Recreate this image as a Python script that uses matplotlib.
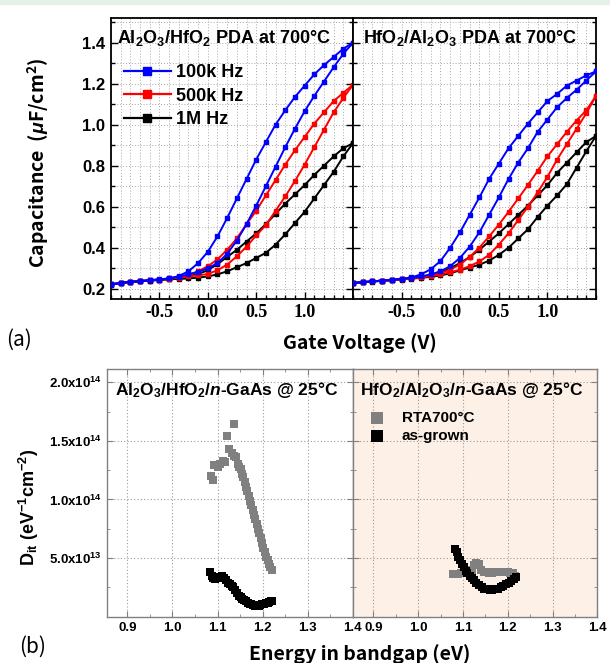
import matplotlib
matplotlib.use("Agg")
import matplotlib.pyplot as plt
from matplotlib.lines import Line2D
from matplotlib.patches import Rectangle
from matplotlib.ticker import MultipleLocator, FixedLocator, NullFormatter

plt.rcParams['font.family'] = ['Liberation Sans', 'DejaVu Sans']
plt.rcParams['font.weight'] = 'bold'
plt.rcParams['mathtext.fontset'] = 'custom'
plt.rcParams['mathtext.rm'] = 'Liberation Sans:bold'
plt.rcParams['mathtext.it'] = 'Liberation Sans:italic:bold'
plt.rcParams['mathtext.bf'] = 'Liberation Sans:bold'
plt.rcParams['mathtext.default'] = 'regular'

# ---------------- C-V data (gate sweep, uF/cm^2) ----------------
gate_v = [-1.0, -0.9, -0.8, -0.7, -0.6, -0.5, -0.4, -0.3, -0.2, -0.1, 0.0,
          0.1, 0.2, 0.3, 0.4, 0.5, 0.6, 0.7, 0.8, 0.9, 1.0, 1.1, 1.2, 1.3, 1.4, 1.5]

# Al2O3/HfO2 stack
ah_100k_up = [0.220, 0.228, 0.233, 0.237, 0.241, 0.245, 0.250, 0.262, 0.285, 0.325, 0.380,
              0.455, 0.545, 0.640, 0.735, 0.830, 0.915, 1.000, 1.070, 1.135, 1.190,
              1.245, 1.290, 1.330, 1.370, 1.400]
ah_100k_dn = [0.222, 0.229, 0.234, 0.238, 0.242, 0.246, 0.250, 0.258, 0.270, 0.282, 0.300,
              0.325, 0.370, 0.435, 0.515, 0.605, 0.700, 0.795, 0.890, 0.980, 1.065,
              1.140, 1.210, 1.280, 1.345, 1.400]
ah_500k_up = [0.221, 0.228, 0.233, 0.237, 0.241, 0.245, 0.250, 0.258, 0.268, 0.285, 0.310,
              0.343, 0.390, 0.445, 0.515, 0.580, 0.655, 0.730, 0.805, 0.875, 0.940,
              1.005, 1.060, 1.115, 1.155, 1.195]
ah_500k_dn = [0.222, 0.229, 0.234, 0.238, 0.241, 0.244, 0.248, 0.254, 0.260, 0.265, 0.272,
              0.290, 0.318, 0.358, 0.405, 0.460, 0.510, 0.580, 0.650, 0.725, 0.805,
              0.890, 0.975, 1.060, 1.130, 1.195]
ah_1M_up = [0.220, 0.227, 0.232, 0.236, 0.240, 0.243, 0.247, 0.252, 0.260, 0.272, 0.290,
            0.320, 0.355, 0.390, 0.430, 0.470, 0.515, 0.565, 0.615, 0.660, 0.705,
            0.755, 0.800, 0.845, 0.885, 0.910]
ah_1M_dn = [0.221, 0.228, 0.233, 0.237, 0.240, 0.243, 0.246, 0.248, 0.250, 0.254, 0.260,
            0.270, 0.285, 0.305, 0.325, 0.350, 0.375, 0.415, 0.465, 0.520, 0.575,
            0.640, 0.705, 0.770, 0.845, 0.910]

# HfO2/Al2O3 stack
ha_100k_up = [0.228, 0.232, 0.236, 0.240, 0.244, 0.248, 0.255, 0.270, 0.295, 0.335, 0.400,
              0.475, 0.560, 0.645, 0.735, 0.810, 0.885, 0.945, 1.005, 1.060, 1.115,
              1.150, 1.190, 1.215, 1.240, 1.260]
ha_100k_dn = [0.228, 0.232, 0.236, 0.240, 0.244, 0.248, 0.252, 0.260, 0.270, 0.285, 0.310,
              0.350, 0.405, 0.475, 0.560, 0.645, 0.735, 0.815, 0.885, 0.965, 1.025,
              1.085, 1.130, 1.170, 1.215, 1.260]
ha_500k_up = [0.228, 0.232, 0.236, 0.240, 0.243, 0.247, 0.251, 0.258, 0.265, 0.275, 0.293,
              0.318, 0.355, 0.400, 0.455, 0.512, 0.575, 0.640, 0.706, 0.775, 0.845,
              0.905, 0.965, 1.020, 1.070, 1.140]
ha_500k_dn = [0.228, 0.232, 0.236, 0.239, 0.242, 0.246, 0.250, 0.255, 0.262, 0.270, 0.280,
              0.293, 0.310, 0.333, 0.365, 0.415, 0.470, 0.535, 0.600, 0.670, 0.745,
              0.830, 0.905, 0.980, 1.055, 1.140]
ha_1M_up = [0.228, 0.232, 0.236, 0.239, 0.242, 0.246, 0.250, 0.256, 0.265, 0.280, 0.300,
            0.325, 0.355, 0.390, 0.430, 0.470, 0.515, 0.560, 0.605, 0.655, 0.705,
            0.765, 0.815, 0.865, 0.915, 0.945]
ha_1M_dn = [0.228, 0.231, 0.235, 0.238, 0.241, 0.245, 0.249, 0.253, 0.258, 0.265, 0.275,
            0.290, 0.303, 0.317, 0.337, 0.365, 0.400, 0.445, 0.490, 0.550, 0.605,
            0.655, 0.710, 0.790, 0.870, 0.945]

freq_labels = ['100k Hz', '500k Hz', '1M Hz']
freq_colors = ['#0000ff', '#ff0000', '#000000']

# ---------------- Dit data (eV^-1 cm^-2) ----------------
ah_rta_e = [1.086, 1.091, 1.093, 1.100, 1.106, 1.112, 1.117, 1.121, 1.126, 1.131,
            1.136, 1.136, 1.141, 1.145, 1.148, 1.151, 1.154, 1.157, 1.160, 1.163,
            1.166, 1.169, 1.172, 1.175, 1.178, 1.181, 1.184, 1.187, 1.190, 1.193,
            1.196, 1.199, 1.202, 1.205, 1.208, 1.211, 1.214, 1.217, 1.220]
ah_rta_dit = [1.20e14, 1.17e14, 1.29e14, 1.28e14, 1.30e14, 1.33e14, 1.32e14, 1.54e14, 1.43e14, 1.40e14,
              1.64e14, 1.37e14, 1.36e14, 1.30e14, 1.28e14, 1.26e14, 1.22e14, 1.19e14, 1.15e14, 1.11e14,
              1.07e14, 1.03e14, 0.99e14, 0.95e14, 0.91e14, 0.87e14, 0.83e14, 0.79e14, 0.75e14, 0.71e14,
              0.67e14, 0.63e14, 0.59e14, 0.55e14, 0.51e14, 0.48e14, 0.45e14, 0.42e14, 0.40e14]
ah_asg_e = [1.084, 1.087, 1.090, 1.095, 1.100, 1.105, 1.110, 1.115, 1.119, 1.123,
            1.127, 1.131, 1.135, 1.139, 1.143, 1.147, 1.151, 1.155, 1.159, 1.163,
            1.167, 1.171, 1.175, 1.179, 1.183, 1.187, 1.191, 1.195, 1.199, 1.203,
            1.207, 1.211, 1.215, 1.219, 1.221]
ah_asg_dit = [0.38e14, 0.35e14, 0.33e14, 0.32e14, 0.33e14, 0.34e14, 0.345e14, 0.33e14, 0.31e14, 0.29e14,
              0.28e14, 0.265e14, 0.25e14, 0.225e14, 0.20e14, 0.18e14, 0.165e14, 0.15e14, 0.14e14, 0.13e14,
              0.12e14, 0.11e14, 0.105e14, 0.10e14, 0.095e14, 0.095e14, 0.095e14, 0.10e14, 0.105e14, 0.11e14,
              0.115e14, 0.12e14, 0.125e14, 0.13e14, 0.13e14]
ha_rta_e = [1.078, 1.084, 1.090, 1.096, 1.102, 1.108, 1.114, 1.120, 1.125, 1.130,
            1.135, 1.140, 1.146, 1.152, 1.158, 1.164, 1.170, 1.176, 1.182, 1.188,
            1.194, 1.200, 1.206, 1.212, 1.217]
ha_rta_dit = [0.36e14, 0.36e14, 0.365e14, 0.37e14, 0.37e14, 0.37e14, 0.375e14, 0.40e14, 0.44e14, 0.46e14,
              0.45e14, 0.40e14, 0.385e14, 0.38e14, 0.375e14, 0.375e14, 0.38e14, 0.385e14, 0.385e14, 0.385e14,
              0.38e14, 0.38e14, 0.375e14, 0.37e14, 0.35e14]
ha_asg_e = [1.082, 1.086, 1.090, 1.094, 1.098, 1.102, 1.106, 1.110, 1.115, 1.120,
            1.125, 1.130, 1.136, 1.142, 1.148, 1.154, 1.160, 1.166, 1.172, 1.178,
            1.184, 1.190, 1.196, 1.202, 1.208, 1.214, 1.219]
ha_asg_dit = [0.58e14, 0.55e14, 0.51e14, 0.48e14, 0.45e14, 0.42e14, 0.39e14, 0.37e14, 0.35e14, 0.33e14,
              0.31e14, 0.29e14, 0.27e14, 0.255e14, 0.24e14, 0.232e14, 0.228e14, 0.228e14, 0.232e14, 0.24e14,
              0.25e14, 0.262e14, 0.275e14, 0.29e14, 0.305e14, 0.32e14, 0.335e14]

cv_xticks = [-0.5, 0.0, 0.5, 1.0]
cv_xticklabels = ['-0.5', '0.0', '0.5', '1.0']
cv_yticks = [0.2, 0.4, 0.6, 0.8, 1.0, 1.2, 1.4]
dit_xticks = [0.9, 1.0, 1.1, 1.2, 1.3, 1.4]
dit_yticks = [0.5e14, 1.0e14, 1.5e14, 2.0e14]
dit_yticklabels = [r'5.0x10$^{13}$', r'1.0x10$^{14}$', r'1.5x10$^{14}$', r'2.0x10$^{14}$']

W, H = 610, 663
fig = plt.figure(figsize=(W / 100, H / 100), dpi=100)


def box(x0, y0, x1, y1):
    return [x0 / W, 1 - y1 / H, (x1 - x0) / W, (y1 - y0) / H]


def fpt(x, y):
    return x / W, 1 - y / H


fig.patches.append(Rectangle((0, 1 - 4 / H), 1, 4 / H, transform=fig.transFigure,
                             color='#e2f2e6', zorder=0))

# ---------------- C-V panels ----------------
ax1 = fig.add_axes(box(111, 18, 353, 299))
ax2 = fig.add_axes(box(353, 18, 596, 299))

cv_sets = [
    (ax1, [(ah_100k_up, ah_100k_dn), (ah_500k_up, ah_500k_dn), (ah_1M_up, ah_1M_dn)]),
    (ax2, [(ha_100k_up, ha_100k_dn), (ha_500k_up, ha_500k_dn), (ha_1M_up, ha_1M_dn)]),
]
for ax, curves in cv_sets:
    for (up, dn), col in zip(reversed(curves), reversed(freq_colors)):
        for branch in (up, dn):
            ax.plot(gate_v, branch, color=col, lw=1.4, marker='s', ms=3.0,
                    mec=col, mfc=col, zorder=3)
    ax.set_xlim(-1.0, 1.5)
    ax.set_ylim(0.15, 1.52)
    ax.xaxis.set_major_locator(FixedLocator(cv_xticks))
    ax.xaxis.set_minor_locator(MultipleLocator(0.1))
    ax.yaxis.set_major_locator(FixedLocator(cv_yticks))
    ax.yaxis.set_minor_locator(MultipleLocator(0.1))
    ax.grid(which='both', ls=(0, (1, 2)), color='#a8a8a8', lw=0.7)
    ax.set_axisbelow(True)
    ax.tick_params(which='both', direction='in', left=True, right=True, top=False, bottom=True,
                   width=1.0)
    ax.tick_params(which='major', length=5)
    ax.tick_params(which='minor', length=3)
    ax.set_xticklabels(cv_xticklabels, fontfamily='Liberation Serif', fontweight='bold',
                       fontsize=13)
    for s in ax.spines.values():
        s.set_linewidth(1.3)
        s.set_color('black')

ax1.set_yticklabels(['%.1f' % t for t in cv_yticks], fontsize=12, fontweight='bold')
ax2.yaxis.set_major_formatter(NullFormatter())
ax1.tick_params(axis='y', pad=4)

ax1.text(0.025, 0.965, r'Al$_2$O$_3$/HfO$_2$ PDA at 700°C', transform=ax1.transAxes,
         fontsize=13, fontweight='bold', va='top', ha='left')
ax2.text(0.04, 0.965, r'HfO$_2$/Al$_2$O$_3$ PDA at 700°C', transform=ax2.transAxes,
         fontsize=13, fontweight='bold', va='top', ha='left')

handles = [Line2D([], [], color=c, lw=1.6, marker='s', ms=6, mec=c, mfc=c)
           for c in freq_colors]
ax1.legend(handles, freq_labels, loc='upper left', bbox_to_anchor=(0.0, 0.88),
           frameon=False, prop={'size': 13, 'weight': 'bold'}, handlelength=2.6,
           handletextpad=0.3, labelspacing=0.35, borderaxespad=0.3)

# ---------------- Dit panels ----------------
ax3 = fig.add_axes(box(106.7, 369.3, 352.7, 616.7))
ax4 = fig.add_axes(box(352.7, 369.3, 597.3, 616.7))
ax4.set_facecolor('#fdf1e7')

ms_area = 36
ax3.scatter(ah_rta_e, ah_rta_dit, marker='s', s=ms_area, color='#808080', lw=0, zorder=3)
ax3.scatter(ah_asg_e, ah_asg_dit, marker='s', s=ms_area, color='#000000', lw=0, zorder=3)
ax4.scatter(ha_rta_e, ha_rta_dit, marker='s', s=ms_area, color='#808080', lw=0, zorder=3,
            label='RTA700°C')
ax4.scatter(ha_asg_e, ha_asg_dit, marker='s', s=ms_area, color='#000000', lw=0, zorder=4,
            label='as-grown')

for ax in (ax3, ax4):
    ax.set_xlim(0.854, 1.4)
    ax.set_ylim(0, 2.11e14)
    ax.xaxis.set_major_locator(FixedLocator(dit_xticks))
    ax.xaxis.set_minor_locator(MultipleLocator(0.05))
    ax.yaxis.set_major_locator(FixedLocator(dit_yticks))
    ax.yaxis.set_minor_locator(MultipleLocator(0.25e14))
    ax.grid(which='major', ls=(0, (1, 2)), color='#9a9a9a', lw=0.8)
    ax.set_axisbelow(True)
    ax.tick_params(which='both', direction='in', left=True, right=True, top=True, bottom=True,
                   color='#808080')
    ax.tick_params(which='major', length=4)
    ax.tick_params(which='minor', length=2.5)
    ax.set_xticklabels(['%.1f' % t for t in dit_xticks], fontsize=9.5, fontweight='bold')
    for s in ax.spines.values():
        s.set_linewidth(1.0)
        s.set_color('#808080')

ax3.set_yticklabels(dit_yticklabels, fontsize=9.5, fontweight='bold')
ax4.yaxis.set_major_formatter(NullFormatter())

ax3.text(0.035, 0.955, r'Al$_2$O$_3$/HfO$_2$/$\mathit{n}$-GaAs @ 25°C', transform=ax3.transAxes,
         fontsize=12.5, fontweight='bold', va='top', ha='left')
ax4.text(0.03, 0.955, r'HfO$_2$/Al$_2$O$_3$/$\mathit{n}$-GaAs @ 25°C', transform=ax4.transAxes,
         fontsize=12.5, fontweight='bold', va='top', ha='left')
ax4.legend(loc='upper left', bbox_to_anchor=(0.0, 0.87), frameon=False,
           prop={'size': 11, 'weight': 'bold'}, handletextpad=0.6, labelspacing=0.3,
           borderaxespad=0.2, markerscale=1.35, scatterpoints=1)

# ---------------- shared labels ----------------
lab_font = dict(family=['Noto Sans CJK KR', 'DejaVu Sans'], weight='bold', size=14)
fig.text(*fpt(38, 163), r'Capacitance  ($\mathit{μ}$F/cm$^2$)', rotation=90, ha='center',
         va='center', **lab_font)
fig.text(*fpt(360, 343), 'Gate Voltage (V)', ha='center', va='center', **lab_font)
fig.text(*fpt(360, 654), 'Energy in bandgap (eV)', ha='center', va='center', **lab_font)
fig.text(*fpt(29, 507), r'D$_{it}$ (eV$^{-1}$cm$^{-2}$)', rotation=90, ha='center',
         va='center', fontsize=13, fontweight='bold')
fig.text(*fpt(19, 340), '(a)', ha='center', va='center',
         family=['Noto Sans CJK KR', 'DejaVu Sans'], weight='normal', size=15)
fig.text(*fpt(33, 647), '(b)', ha='center', va='center',
         family=['Noto Sans CJK KR', 'DejaVu Sans'], weight='normal', size=15)

fig.savefig('out.png', dpi=100)
